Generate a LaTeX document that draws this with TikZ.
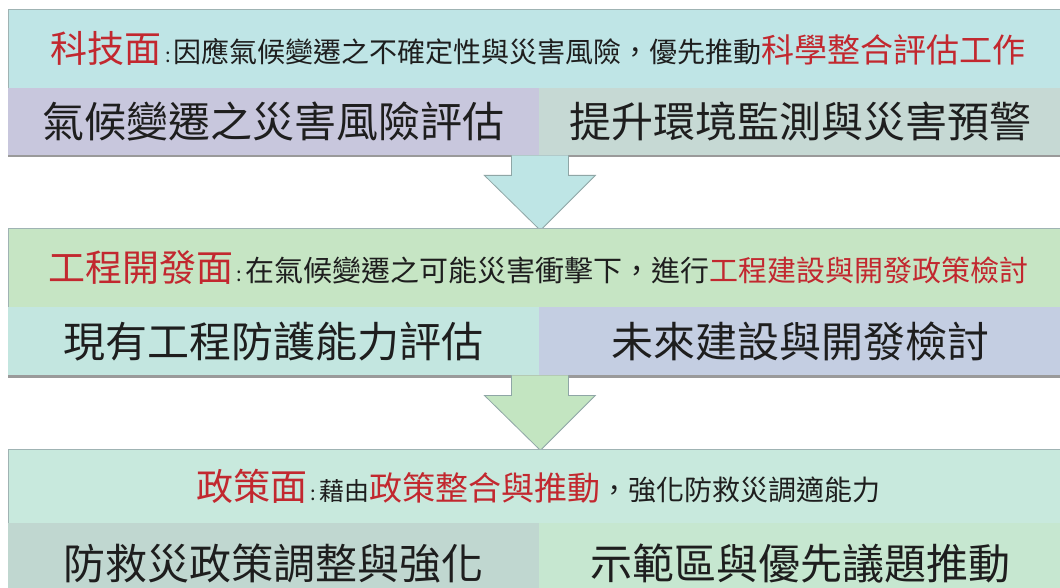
\documentclass[tikz,border=0pt]{standalone}
\usepackage{fontspec}
\usetikzlibrary{calc}
\newfontfamily\cjk{Noto Sans CJK TC}
\definecolor{hdrA}{HTML}{BFE5E6}
\definecolor{subAa}{HTML}{C8C7DD}
\definecolor{subAb}{HTML}{C6D9D4}
\definecolor{hdrB}{HTML}{C6E5C4}
\definecolor{subBa}{HTML}{C3E6E0}
\definecolor{subBb}{HTML}{C4CEE2}
\definecolor{hdrC}{HTML}{C8E9DD}
\definecolor{subCa}{HTML}{C0D7D0}
\definecolor{subCb}{HTML}{C6E7D0}
\definecolor{arrA}{HTML}{BEE5E5}
\definecolor{arrB}{HTML}{C3E5C1}
\definecolor{bordc}{HTML}{9FB3B3}
\definecolor{arrline}{HTML}{8FA6A6}
\definecolor{redc}{HTML}{C2282F}
\definecolor{txt}{HTML}{1E1E1E}
\definecolor{shadowc}{HTML}{9A9A9A}
\newcommand{\leadtxt}[1]{{\fontsize{37}{40}\selectfont\color{redc}#1}}
\newcommand{\colonx}{{\fontsize{20}{24}\selectfont\,:\,}}
\newcommand{\normtxt}[1]{{\fontsize{28}{32}\selectfont #1}}
\newcommand{\hottxt}[1]{{\fontsize{33}{36}\selectfont\color{redc}#1}}
\begin{document}
\begin{tikzpicture}[x=1pt,y=-1pt,
  hdr/.style={draw=bordc, line width=0.6pt, inner sep=0pt, anchor=north west,
    minimum width=1060pt, text=txt},
  subbox/.style={draw=none, inner sep=0pt, anchor=north west,
    font=\cjk\fontsize{42}{46}\selectfont, text=txt},
  arrowshape/.style={draw=arrline, line width=0.8pt, line join=miter},
]
\useasboundingbox (0,0) rectangle (1060,588);
\clip (0,0) rectangle (1060,588);
\fill[white] (0,0) rectangle (1060,588);

% ---------- band 1 ----------
\node[hdr, fill=hdrA, minimum height=79pt] (h1) at (8,9)
  {\cjk\leadtxt{科技面}\colonx\normtxt{因應氣候變遷之不確定性與災害風險，優先推動}\hottxt{科學整合評估工作}};
\fill[shadowc] (8,155) rectangle (1062,157.5);
\node[subbox, fill=subAa, minimum width=531pt, minimum height=67pt] (l1) at (8,88) {氣候變遷之災害風險評估};
\node[subbox, fill=subAb, minimum width=523pt, minimum height=67pt] (r1) at (539,88) {提升環境監測與災害預警};

% ---------- arrow 1 ----------
\coordinate (a1) at (l1.south east);
\draw[arrowshape, fill=arrA]
  ($(a1)+(-28,0)$) -- ($(a1)+(-28,20)$) -- ($(a1)+(-55,20)$) -- ($(a1)+(1,75)$)
  -- ($(a1)+(56,20)$) -- ($(a1)+(29,20)$) -- ($(a1)+(29,0)$);

% ---------- band 2 ----------
\node[hdr, fill=hdrB, minimum height=79pt] (h2) at (8,228)
  {\cjk\leadtxt{工程開發面}\colonx{\fontsize{29}{32}\selectfont 在氣候變遷之可能災害衝擊下，進行}{\fontsize{29}{32}\selectfont\color{redc}工程建設與開發政策檢討}};
\fill[shadowc] (8,375) rectangle (1062,377.5);
\node[subbox, fill=subBa, minimum width=531pt, minimum height=68pt] (l2) at (8,307) {現有工程防護能力評估};
\node[subbox, fill=subBb, minimum width=523pt, minimum height=68pt] (r2) at (539,307) {未來建設與開發檢討};

% ---------- arrow 2 ----------
\coordinate (a2) at (l2.south east);
\draw[arrowshape, fill=arrB]
  ($(a2)+(-28,0)$) -- ($(a2)+(-28,20)$) -- ($(a2)+(-55,20)$) -- ($(a2)+(1,75)$)
  -- ($(a2)+(56,20)$) -- ($(a2)+(29,20)$) -- ($(a2)+(29,0)$);

% ---------- band 3 ----------
\node[hdr, fill=hdrC, minimum height=74pt] (h3) at (8,449)
  {\cjk\leadtxt{政策面}\colonx{\fontsize{25}{28}\selectfont 藉由}\hottxt{政策整合與推動}\normtxt{，強化防救災調適能力}};
\node[subbox, fill=subCa, minimum width=531pt, minimum height=80pt] (l3) at (8,523) {防救災政策調整與強化};
\node[subbox, fill=subCb, minimum width=523pt, minimum height=80pt] (r3) at (539,523) {示範區與優先議題推動};
\end{tikzpicture}
\end{document}
